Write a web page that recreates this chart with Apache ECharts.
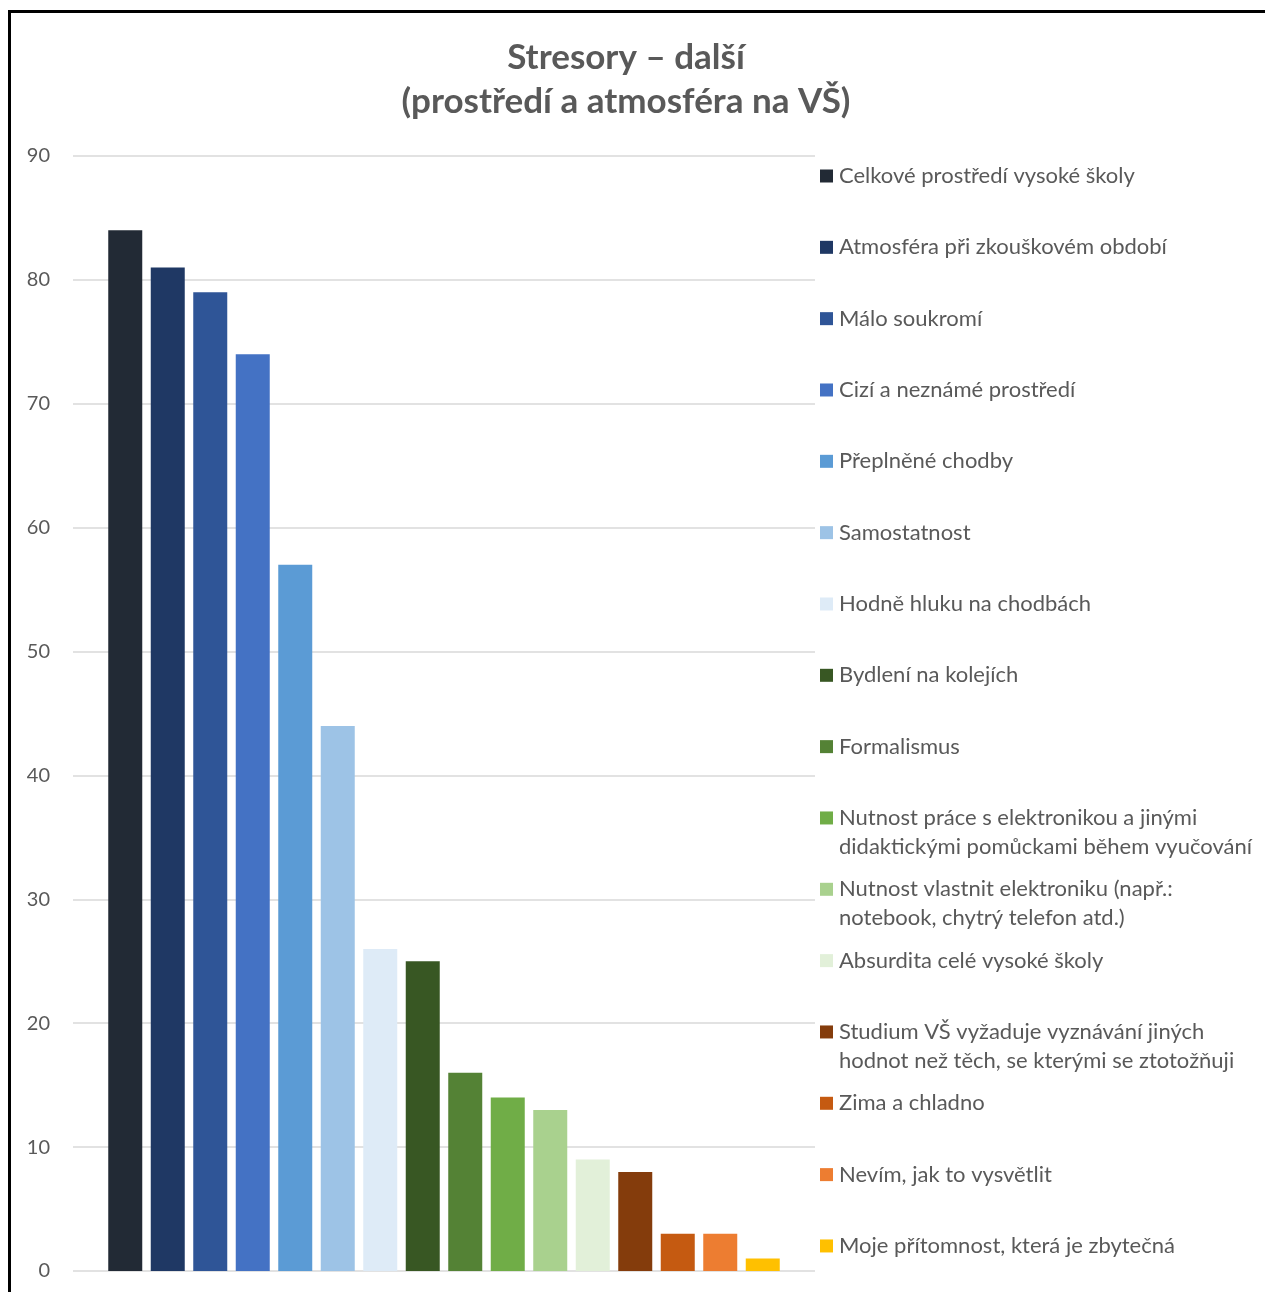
<!DOCTYPE html>
<html>
<head>
<meta charset="utf-8">
<script src="https://cdn.jsdelivr.net/npm/echarts@6/dist/echarts.min.js"></script>
<style>
  html, body { margin: 0; padding: 0; background: #fff; }
  #chart { width: 1265px; height: 1292px; }
</style>
</head>
<body>
<div id="chart"></div>
<script>
// stressors, one series per answer (Excel-style single cluster)
const names = [
  'Celkové prostředí vysoké školy',
  'Atmosféra při zkouškovém období',
  'Málo soukromí',
  'Cizí a neznámé prostředí',
  'Přeplněné chodby',
  'Samostatnost',
  'Hodně hluku na chodbách',
  'Bydlení na kolejích',
  'Formalismus',
  'Nutnost práce s elektronikou a jinými\ndidaktickými pomůckami během vyučování',
  'Nutnost vlastnit elektroniku (např.:\nnotebook, chytrý telefon atd.)',
  'Absurdita celé vysoké školy',
  'Studium VŠ vyžaduje vyznávání jiných\nhodnot než těch, se kterými se ztotožňuji',
  'Zima a chladno',
  'Nevím, jak to vysvětlit',
  'Moje přítomnost, která je zbytečná'
];
const values = [84, 81, 79, 74, 57, 44, 26, 25, 16, 14, 13, 9, 8, 3, 3, 1];
const colors = [
  '#222a35', '#1f3864', '#2f5597', '#4472c4', '#5b9bd5', '#9dc3e6', '#deebf7',
  '#385723', '#548235', '#70ad47', '#a9d18e', '#e2f0d9',
  '#843c0c', '#c55a11', '#ed7d31', '#ffc000'
];
const yTicks = [0, 10, 20, 30, 40, 50, 60, 70, 80, 90];

const chart = echarts.init(document.getElementById('chart'));
const font = 'Lato, "Open Sans", sans-serif';
const lh = 29;

const legends = names.map((n, i) => {
  const cy = 176 + i * 71.33;
  const twoLine = n.indexOf('\n') >= 0;
  return {
    data: [n],
    left: 820,
    top: twoLine ? cy - lh * 1.5 : cy - lh / 2,
    padding: 0,
    itemWidth: 13,
    itemHeight: 13,
    itemGap: 0,
    selectedMode: false,
    icon: 'rect',
    // blank first line keeps the square level with the first text line
    formatter: name => name.indexOf('\n') >= 0 ? ' \n' + name : name,
    textStyle: { fontFamily: font, fontSize: 22, color: '#595959', lineHeight: lh, padding: [0, 0, 0, 1] }
  };
});

chart.setOption({
  animation: false,
  backgroundColor: '#fff',
  title: {
    text: 'Stresory – další\n(prostředí a atmosféra na VŠ)',
    left: 621,
    top: 31,
    textAlign: 'center',
    textStyle: { fontFamily: font, fontSize: 35, fontWeight: 'bold', color: '#595959', lineHeight: 44 }
  },
  legend: legends,
  grid: { left: 73, right: 450, top: 156, bottom: 21 },
  xAxis: {
    type: 'category',
    data: [''],
    axisLine: { show: false },
    axisTick: { show: false },
    axisLabel: { show: false }
  },
  yAxis: {
    type: 'value',
    min: yTicks[0],
    max: yTicks[yTicks.length - 1],
    interval: 10,
    axisLine: { show: false },
    axisTick: { show: false },
    axisLabel: { fontFamily: font, fontSize: 20, color: '#595959', margin: 23 },
    splitLine: { lineStyle: { color: '#d9d9d9', width: 1.5 } }
  },
  series: names.map((n, i) => ({
    name: n,
    type: 'bar',
    data: [values[i]],
    barWidth: 34,
    barGap: '25%',
    itemStyle: { color: colors[i] }
  })),
  graphic: [{
    type: 'rect',
    shape: { x: 9.5, y: 11.5, width: 1400, height: 1400 },
    style: { fill: 'none', stroke: '#000', lineWidth: 3 },
    silent: true
  }]
});
</script>
</body>
</html>
